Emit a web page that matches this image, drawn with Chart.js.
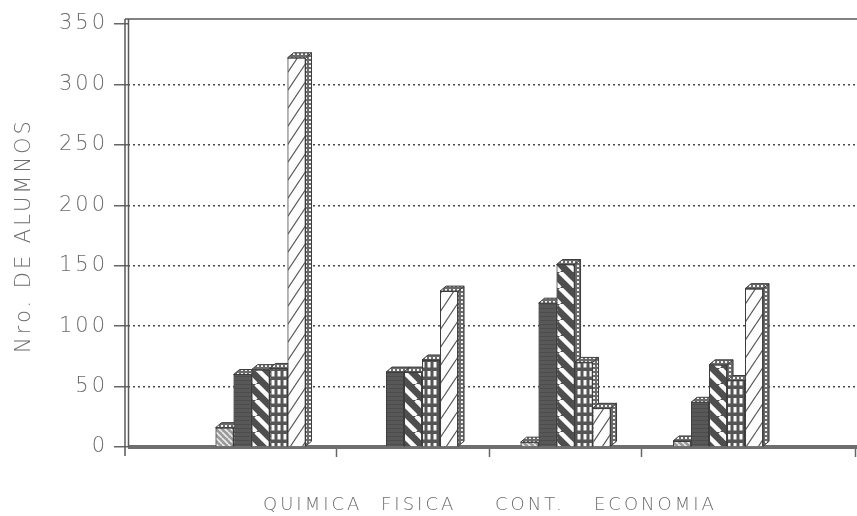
<!DOCTYPE html>
<html>
<head>
<meta charset="utf-8">
<script src="https://cdn.jsdelivr.net/npm/chart.js"></script>
<style>
  body { margin: 0; background: #fff; }
  canvas { display: block; }
</style>
</head>
<body>
<canvas id="grafico" width="857" height="516"></canvas>
<script>
const categorias = ['QUIMICA', 'FISICA', 'CONT.', 'ECONOMIA']
const serie1 = [16, 0, 4, 5]
const serie2 = [60, 62, 119, 37]
const serie3 = [64, 62, 151, 68]
const serie4 = [65, 72, 70, 55]
const serie5 = [322, 129, 32, 131]
const ticksY = [0, 50, 100, 150, 200, 250, 300, 350]
const tituloY = 'Nro. DE ALUMNOS'

const fonte = '"DejaVu Sans", sans-serif'
const corTexto = '#6c6c6c'
const corLinha = '#3c3c3c'
const espacoLetras = '3px'

// padroes de preenchimento das barras (imitando as tramas do original)
function criarPadrao(w, h, desenhar) {
  const c = document.createElement('canvas')
  c.width = w
  c.height = h
  const ctx = c.getContext('2d')
  desenhar(ctx, w, h)
  return ctx.createPattern(c, 'repeat')
}

function linhasInclinadas(ctx, w, h, desce) {
  for (const d of [-w, 0, w]) {
    ctx.beginPath()
    if (desce) { ctx.moveTo(d, 0); ctx.lineTo(d + w, h) }
    else { ctx.moveTo(d, h); ctx.lineTo(d + w, 0) }
    ctx.stroke()
  }
}

const padraoCruz = criarPadrao(6, 6, (ctx, w, h) => {
  ctx.fillStyle = '#9a9a9a'; ctx.fillRect(0, 0, w, h)
  ctx.strokeStyle = '#ececec'; ctx.lineWidth = 1.6
  linhasInclinadas(ctx, w, h, true)
})
const padraoEscuro = criarPadrao(4, 4, (ctx, w, h) => {
  ctx.fillStyle = '#585858'; ctx.fillRect(0, 0, w, h)
  ctx.fillStyle = '#4c4c4c'; ctx.fillRect(0, 0, w, 1)
})
const padraoFranjas = criarPadrao(16, 16, (ctx, w, h) => {
  ctx.fillStyle = '#4e4e4e'; ctx.fillRect(0, 0, w, h)
  ctx.strokeStyle = '#fafafa'; ctx.lineWidth = 4.5
  linhasInclinadas(ctx, w, h, true)
})
const padraoGrade = criarPadrao(6, 9, (ctx, w, h) => {
  ctx.fillStyle = '#555'; ctx.fillRect(0, 0, w, h)
  ctx.fillStyle = '#fafafa'; ctx.fillRect(1.5, 2, 3, 5.5)
})
const padraoBarra = criarPadrao(12, 18, (ctx, w, h) => {
  ctx.fillStyle = '#fdfdfd'; ctx.fillRect(0, 0, w, h)
  ctx.strokeStyle = '#555'; ctx.lineWidth = 1.2
  linhasInclinadas(ctx, w, h, false)
})
const padraoPontos = criarPadrao(4, 4, (ctx, w, h) => {
  ctx.fillStyle = '#6a6a6a'; ctx.fillRect(0, 0, w, h)
  ctx.fillStyle = '#f4f4f4'; ctx.fillRect(1, 1, 2, 2)
})

const series = [serie1, serie2, serie3, serie4, serie5]
const padroes = [padraoCruz, padraoEscuro, padraoFranjas, padraoGrade, padraoBarra]

const conjuntos = series.map((serie, i) => ({
  label: 'Serie ' + (i + 1),
  data: serie.map((v, j) => ({ x: j, y: v })),
  backgroundColor: padroes[i],
  borderColor: corLinha,
  borderWidth: serie.map(v => v > 0 ? 1 : 0)
}))

// barras com topo e lateral em 3D, redesenhadas da esquerda para a direita
const barras3d = {
  id: 'barras3d',
  beforeLayout(chart) {
    chart.ctx.letterSpacing = espacoLetras
  },
  beforeDraw(chart) {
    const ctx = chart.ctx
    ctx.save()
    ctx.fillStyle = '#fff'
    ctx.fillRect(0, 0, chart.width, chart.height)
    ctx.restore()
    ctx.letterSpacing = espacoLetras
  },
  afterDatasetsDraw(chart) {
    const ctx = chart.ctx
    const area = chart.chartArea
    const dx = 6, dy = 5
    ctx.save()
    ctx.fillStyle = '#6e6e6e'
    ctx.fillRect(area.left, area.bottom - 2, area.right - area.left, 4)

    chart.data.datasets.forEach((ds, i) => {
      const meta = chart.getDatasetMeta(i)
      meta.data.forEach((barra, j) => {
        if (!(ds.data[j].y > 0)) return
        const x = barra.x, y = barra.y, base = barra.base, w = barra.width
        const esq = x - w / 2, dir = x + w / 2
        ctx.fillStyle = padraoPontos
        ctx.strokeStyle = corLinha
        ctx.lineWidth = 1
        ctx.beginPath()
        ctx.moveTo(dir, base)
        ctx.lineTo(dir, y)
        ctx.lineTo(dir + dx, y - dy)
        ctx.lineTo(dir + dx, base - dy)
        ctx.closePath()
        ctx.fill(); ctx.stroke()
        ctx.beginPath()
        ctx.moveTo(esq, y)
        ctx.lineTo(esq + dx, y - dy)
        ctx.lineTo(dir + dx, y - dy)
        ctx.lineTo(dir, y)
        ctx.closePath()
        ctx.fill(); ctx.stroke()
        barra.draw(ctx)
      })
    })

    // moldura: eixo duplo a esquerda e linha superior
    ctx.strokeStyle = '#5a5a5a'
    ctx.lineWidth = 1.5
    ctx.beginPath()
    ctx.moveTo(area.left - 3, area.top - 5); ctx.lineTo(area.left - 3, area.bottom + 9)
    ctx.moveTo(area.left + 0.5, area.top - 5); ctx.lineTo(area.left + 0.5, area.bottom)
    ctx.moveTo(area.left - 3, area.top - 5); ctx.lineTo(area.right, area.top - 5)
    ctx.stroke()

    // rotulos das categorias numa linha so, como no original
    const posX = [263, 381, 495, 594]
    ctx.fillStyle = corTexto
    ctx.font = '200 18px ' + fonte
    ctx.letterSpacing = espacoLetras
    ctx.textBaseline = 'middle'
    ctx.textAlign = 'left'
    categorias.forEach((c, i) => ctx.fillText(c, posX[i], 505))
    ctx.restore()
  }
}

new Chart(document.getElementById('grafico'), {
  type: 'bar',
  data: { datasets: conjuntos },
  plugins: [barras3d],
  options: {
    responsive: false,
    animation: false,
    layout: { padding: { top: 24, left: 0, right: 0, bottom: 0 } },
    categoryPercentage: 0.59,
    barPercentage: 1,
    plugins: { legend: { display: false }, tooltip: { enabled: false } },
    scales: {
      x: {
        type: 'linear',
        min: -0.869,
        max: 3.911,
        offset: false,
        afterBuildTicks: eixo => { eixo.ticks = [0.5, 1.5, 2.5, 3.898].map(v => ({ value: v })) },
        afterFit: eixo => { eixo.height = 69 },
        ticks: { display: false },
        grid: { offset: false, drawOnChartArea: false, drawTicks: true, tickLength: 10, tickColor: '#666', tickWidth: 1.5 },
        border: { display: false }
      },
      y: {
        min: 0,
        max: 350,
        afterBuildTicks: eixo => { eixo.ticks = ticksY.map(v => ({ value: v })) },
        afterFit: eixo => { eixo.width = 128 },
        ticks: { color: corTexto, font: { family: fonte, size: 21, weight: 200 }, padding: 6 },
        grid: {
          color: ctx => (ctx.tick && ctx.tick.value > 0 && ctx.tick.value < 350) ? '#4a4a4a' : 'rgba(0,0,0,0)',
          lineWidth: 1.5,
          tickColor: '#666',
          tickWidth: 1.5,
          tickLength: 14
        },
        border: { display: false, dash: [2, 3] },
        title: {
          display: true,
          text: tituloY,
          color: corTexto,
          font: { family: fonte, size: 21, weight: 200 },
          padding: { top: 12, bottom: 0 }
        }
      }
    }
  }
})
</script>
</body>
</html>
